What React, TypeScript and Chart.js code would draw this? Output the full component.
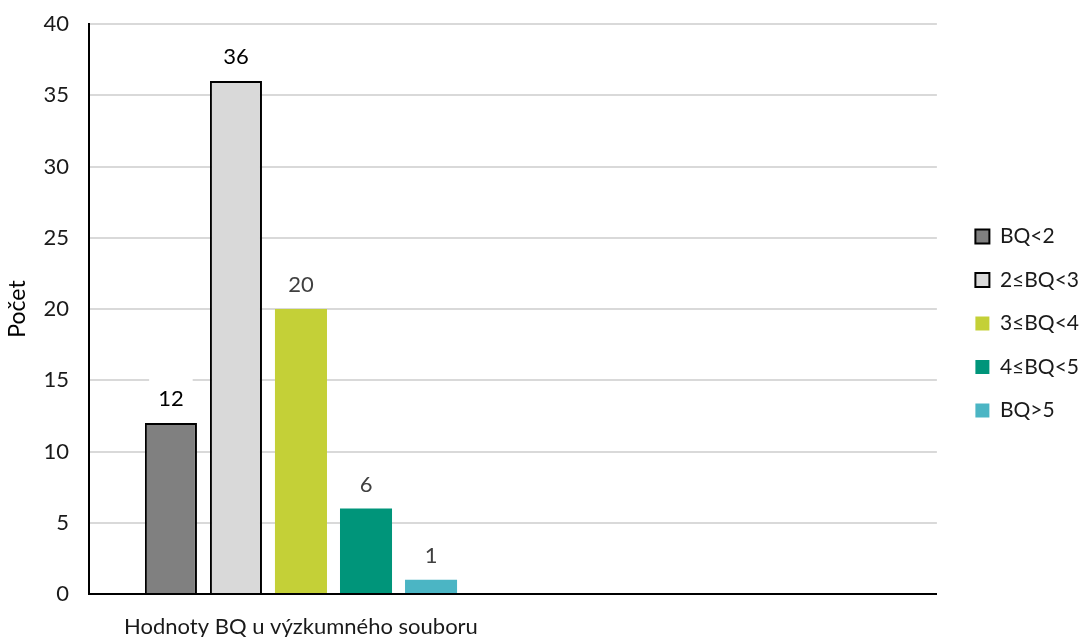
import React, { useEffect, useRef } from "react";
import { Chart, registerables } from "chart.js";

Chart.register(...registerables);

const categories = ["Hodnoty BQ u výzkumného souboru", ""];
const seriesNames = ["BQ<2", "2≤BQ<3", "3≤BQ<4", "4≤BQ<5", "BQ>5"];
const seriesValues = [12, 36, 20, 6, 1];
const seriesColors = ["#808080", "#D9D9D9", "#C4D037", "#00957A", "#4BB5C4"];
const seriesBorders = [2, 2, 0, 0, 0];
const labelColors = ["#000000", "#000000", "#404040", "#404040", "#404040"];
const yTicks = [0, 5, 10, 15, 20, 25, 30, 35, 40];

const FONT = "Lato, 'Open Sans', sans-serif";

const valueLabels = {
  id: "valueLabels",
  afterDatasetsDraw(chart: any) {
    const ctx = chart.ctx;
    ctx.save();
    ctx.font = `22px ${FONT}`;
    ctx.textAlign = "center";
    ctx.textBaseline = "middle";
    chart.data.datasets.forEach((ds: any, i: number) => {
      const meta = chart.getDatasetMeta(i);
      const el = meta.data[0];
      if (!el) return;
      const v = ds.data[0];
      const text = String(v);
      const x = el.x;
      const y = el.y - 24;
      const w = ctx.measureText(text).width + 18;
      const h = 42;
      ctx.fillStyle = "#ffffff";
      ctx.fillRect(x - w / 2, y - h / 2, w, h - 4);
      ctx.fillStyle = labelColors[i];
      ctx.fillText(text, x, y);
    });
    ctx.restore();
  },
};

export default function App() {
  const ref = useRef<HTMLCanvasElement>(null);
  useEffect(() => {
    if (!ref.current) return;
    const chart = new Chart(ref.current, {
      type: "bar",
      data: {
        labels: categories,
        datasets: seriesNames.map((name, i) => ({
          label: name,
          data: [seriesValues[i], null],
          backgroundColor: seriesColors[i],
          borderColor: "#000000",
          borderWidth: seriesBorders[i],
          borderSkipped: "bottom",
          categoryPercentage: 0.767,
          barPercentage: 0.8,
          yAxisID: "y",
        })),
      },
      options: {
        animation: false,
        responsive: true,
        maintainAspectRatio: false,
        layout: { padding: { top: 10, right: -10, bottom: 0, left: 4 } },
        plugins: {
          legend: {
            position: "right",
            align: "center",
            labels: {
              boxWidth: 14,
              boxHeight: 14,
              padding: 22.5,
              color: "#1a1a1a",
              font: { family: FONT, size: 21 },
            },
          },
          tooltip: { enabled: false },
        },
        scales: {
          x: {
            grid: { display: false, drawTicks: false },
            border: { color: "#000000", width: 2 },
            ticks: {
              color: "#1a1a1a",
              font: { family: FONT, size: 22 },
              padding: 20,
              maxRotation: 0,
            },
            afterFit: (axis: any) => {
              axis.height = 43;
            },
          },
          y: {
            min: 0,
            max: 40,
            afterBuildTicks: (axis: any) => {
              axis.ticks = yTicks.map((v) => ({ value: v }));
            },
            afterFit: (axis: any) => {
              axis.width = 85;
              axis.paddingTop = 24;
              axis.paddingBottom = 0;
            },
            grid: { color: "#D9D9D9", lineWidth: 2, drawTicks: false },
            border: { color: "#000000", width: 2 },
            ticks: {
              color: "#1a1a1a",
              font: { family: FONT, size: 22 },
              padding: 20,
            },
            title: {
              display: true,
              text: "Počet",
              color: "#000000",
              font: { family: FONT, size: 23 },
              padding: { top: 0, bottom: 0 },
            },
          },
          gap: {
            type: "linear",
            position: "right",
            display: true,
            grid: { display: false, drawTicks: false },
            border: { display: false },
            ticks: { display: false },
            afterFit: (axis: any) => {
              axis.width = 16;
            },
          },
        },
      },
      plugins: [valueLabels],
    });
    return () => chart.destroy();
  }, []);
  return (
    <div style={{ position: "fixed", left: 0, top: 0, width: 1079, height: 637, background: "#fff" }}>
      <canvas ref={ref} />
    </div>
  );
}
